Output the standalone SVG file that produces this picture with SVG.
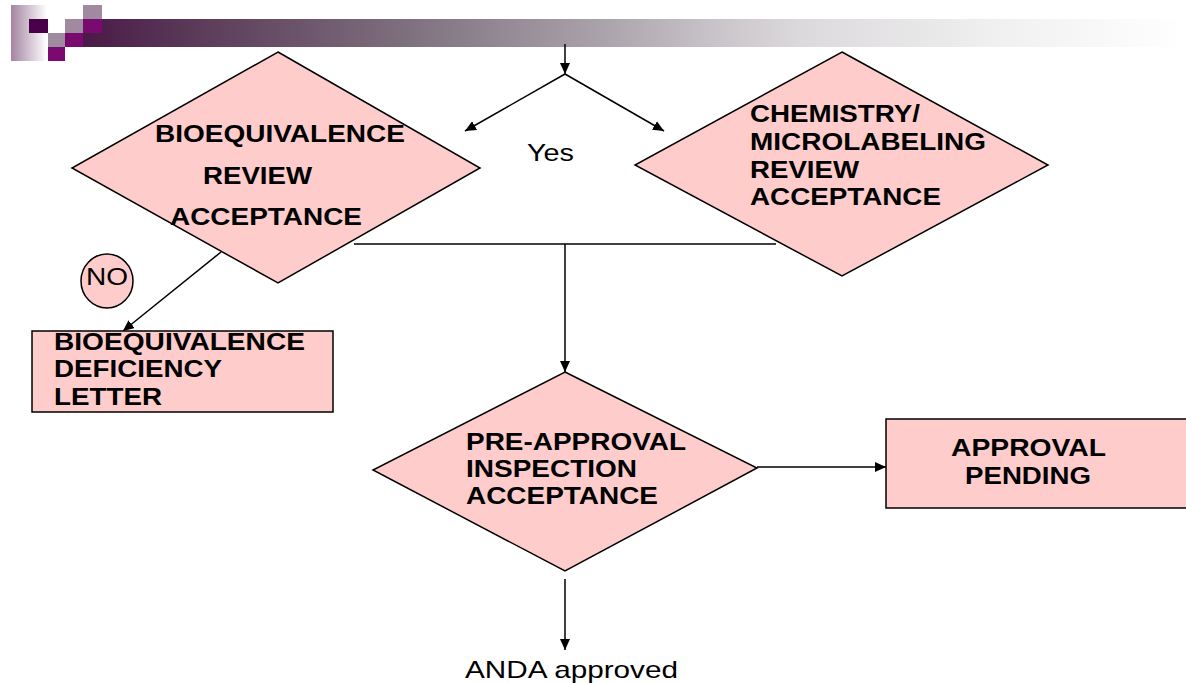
<svg xmlns="http://www.w3.org/2000/svg" width="1186" height="683" viewBox="0 0 1186 683">
<defs>
<linearGradient id="bar" gradientUnits="userSpaceOnUse" x1="83" y1="0" x2="1186" y2="0">
<stop offset="0" stop-color="#4a1a48"/>
<stop offset="0.1" stop-color="#5a3a58"/>
<stop offset="0.287" stop-color="#7d6e7d"/>
<stop offset="0.469" stop-color="#aaa2aa"/>
<stop offset="0.56" stop-color="#c5c0c5"/>
<stop offset="0.65" stop-color="#dcd9dc"/>
<stop offset="0.83" stop-color="#f0f0f0"/>
<stop offset="1" stop-color="#ffffff"/>
</linearGradient>
<linearGradient id="sq" x1="0" y1="0" x2="1" y2="0">
<stop offset="0" stop-color="#a484a2"/>
<stop offset="1" stop-color="#ffffff"/>
</linearGradient>
<marker id="arr" markerUnits="userSpaceOnUse" markerWidth="12" markerHeight="10" refX="11" refY="5" orient="auto">
<path d="M0,0 L11,5 L0,10 Z" fill="#000"/>
</marker>
<style>
.shape{fill:#ffcccc;stroke:#000;stroke-width:1.5}
.b{font-family:"Liberation Sans",Arial,sans-serif;font-weight:bold;font-size:23px;fill:#000}
.n{font-family:"Liberation Sans",Arial,sans-serif;font-size:24px;fill:#000}
.c{stroke:#000;stroke-width:1.5;fill:none}
.a{marker-end:url(#arr)}
</style>
</defs>
<g id="header">
<rect x="83" y="19" width="1103" height="28" fill="url(#bar)"/>
<rect x="11" y="5" width="36" height="56" fill="url(#sq)"/>
<rect x="29" y="19" width="19" height="14" fill="#4a0048"/>
<rect x="65" y="19" width="18" height="14" fill="#a08aa0"/>
<rect x="83" y="5" width="19" height="14" fill="#a08aa0"/>
<rect x="48" y="33" width="17" height="14" fill="#a08aa0"/>
<rect x="83" y="19" width="19" height="14" fill="#7a0a70"/>
<rect x="65" y="33" width="18" height="14" fill="#7a0a70"/>
<rect x="48" y="47" width="17" height="14" fill="#7a0a70"/>
</g>
<g id="connectors">
<line class="c a" x1="565" y1="44" x2="565" y2="74"/>
<line class="c a" x1="565" y1="74" x2="465" y2="131"/>
<line class="c a" x1="565" y1="74" x2="664" y2="131"/>
<line class="c a" x1="221" y1="252" x2="123" y2="331"/>
<line class="c" x1="354" y1="244" x2="776" y2="244"/>
<line class="c a" x1="565" y1="244" x2="565" y2="372"/>
<line class="c a" x1="757" y1="467" x2="886" y2="467"/>
<line class="c a" x1="565" y1="579" x2="565" y2="650"/>
</g>
<g id="bioequivalence-review">
<polygon class="shape" points="278,52 480,168 278,283 72,168"/>
<text class="b" x="155" y="142" textLength="250" lengthAdjust="spacingAndGlyphs">BIOEQUIVALENCE</text>
<text class="b" x="203" y="184" textLength="109" lengthAdjust="spacingAndGlyphs">REVIEW</text>
<text class="b" x="170" y="225" textLength="192" lengthAdjust="spacingAndGlyphs">ACCEPTANCE</text>
</g>
<g id="chemistry-review">
<polygon class="shape" points="842,52 1048,165 842,276 635,165"/>
<text class="b" x="750" y="122" textLength="170" lengthAdjust="spacingAndGlyphs">CHEMISTRY/</text>
<text class="b" x="750" y="150" textLength="236" lengthAdjust="spacingAndGlyphs">MICROLABELING</text>
<text class="b" x="750" y="178" textLength="109" lengthAdjust="spacingAndGlyphs">REVIEW</text>
<text class="b" x="750" y="205" textLength="191" lengthAdjust="spacingAndGlyphs">ACCEPTANCE</text>
</g>
<g id="yes-label">
<text class="n" x="527" y="161" textLength="47" lengthAdjust="spacingAndGlyphs">Yes</text>
</g>
<g id="no-label">
<ellipse class="shape" cx="107" cy="281" rx="26" ry="27"/>
<text class="n" x="86" y="285" textLength="42" lengthAdjust="spacingAndGlyphs">NO</text>
</g>
<g id="deficiency-letter">
<rect class="shape" x="32" y="331" width="301" height="81"/>
<text class="b" x="54" y="350" textLength="251" lengthAdjust="spacingAndGlyphs">BIOEQUIVALENCE</text>
<text class="b" x="54" y="377" textLength="168" lengthAdjust="spacingAndGlyphs">DEFICIENCY</text>
<text class="b" x="54" y="405" textLength="108" lengthAdjust="spacingAndGlyphs">LETTER</text>
</g>
<g id="pre-approval">
<polygon class="shape" points="565,372 757,468 565,571 373,470"/>
<text class="b" x="466" y="450" textLength="220" lengthAdjust="spacingAndGlyphs">PRE-APPROVAL</text>
<text class="b" x="466" y="477" textLength="171" lengthAdjust="spacingAndGlyphs">INSPECTION</text>
<text class="b" x="466" y="504" textLength="192" lengthAdjust="spacingAndGlyphs">ACCEPTANCE</text>
</g>
<g id="approval-pending">
<rect class="shape" x="886" y="419" width="304" height="89"/>
<text class="b" x="951" y="456" textLength="155" lengthAdjust="spacingAndGlyphs">APPROVAL</text>
<text class="b" x="965" y="484" textLength="126" lengthAdjust="spacingAndGlyphs">PENDING</text>
</g>
<g id="anda-approved">
<text class="n" x="465" y="678" textLength="213" lengthAdjust="spacingAndGlyphs">ANDA approved</text>
</g>
</svg>
